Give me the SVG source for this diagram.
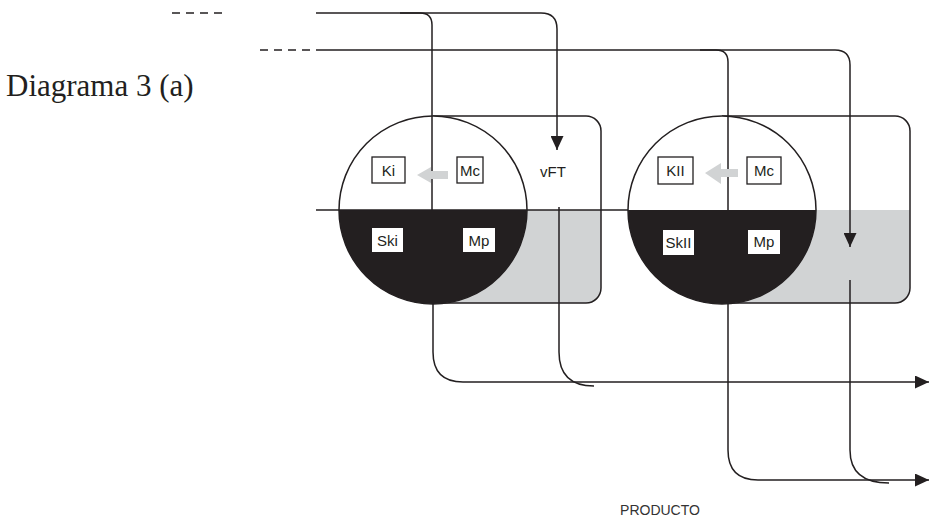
<svg xmlns="http://www.w3.org/2000/svg" width="929" height="520" viewBox="0 0 929 520">
<style>
.ln{fill:none;stroke:#231f20;stroke-width:1.5}
.dash{fill:none;stroke:#231f20;stroke-width:1.5;stroke-dasharray:8 6}
.box{fill:#fff;stroke:#231f20;stroke-width:1.3}
.wbox{fill:#fff;stroke:none}
.lbl{font-family:"Liberation Sans",Arial,sans-serif;font-size:15px;fill:#231f20;text-anchor:middle}
.gray{fill:#d1d3d4}
.blk{fill:#231f20}
.garrow{fill:#d1d3d4}
</style>
<defs>
<marker id="ah" markerUnits="userSpaceOnUse" markerWidth="14" markerHeight="13" refX="14" refY="6.5" orient="auto">
<path d="M0,0 L14,6.5 L0,13 Z" fill="#231f20"/>
</marker>
</defs>
<rect width="929" height="520" fill="#fff"/>
<text x="6" y="96" font-family="Liberation Serif,Times New Roman,serif" font-size="31" fill="#231f20">Diagrama 3 (a)</text>

<g id="tank1">
<path d="M433,116 H586 A15,15 0 0 1 601,131 V288 A15,15 0 0 1 586,303 H433 Z" fill="#fff"/>
<path d="M433,210 H601 V288 A15,15 0 0 1 586,303 H433 Z" class="gray"/>
<path d="M433,116 H586 A15,15 0 0 1 601,131 V288 A15,15 0 0 1 586,303 H433" class="ln"/>
<circle cx="433" cy="210" r="94" fill="#fff" stroke="#231f20" stroke-width="1.5"/>
<path d="M339,210 A94,94 0 0 0 527,210 Z" class="blk"/>
</g>
<g id="tank2">
<path d="M722,116 H895 A15,15 0 0 1 910,131 V288 A15,15 0 0 1 895,303 H722 Z" fill="#fff"/>
<path d="M722,210 H910 V288 A15,15 0 0 1 895,303 H722 Z" class="gray"/>
<path d="M722,116 H895 A15,15 0 0 1 910,131 V288 A15,15 0 0 1 895,303 H722" class="ln"/>
<circle cx="722" cy="210" r="94" fill="#fff" stroke="#231f20" stroke-width="1.5"/>
<path d="M628,210 A94,94 0 0 0 816,210 Z" class="blk"/>
</g>

<g id="connectors">
<path class="dash" d="M172,13 H224"/>
<path class="dash" d="M260,50 H312"/>
<path class="ln" d="M316,13 H420 Q432,13 432,25 V210"/>
<path class="ln" d="M400,13 H541 Q557,13 557,29 V150" marker-end="url(#ah)"/>
<path class="ln" d="M316,50 H716 Q728,50 728,62 V210"/>
<path class="ln" d="M700,50 H835 Q850,50 850,65 V247" marker-end="url(#ah)"/>
<path class="ln" d="M316,210 H628"/>
<path class="ln" d="M433,303 V352 Q433,382 463,382 H929" marker-end="url(#ah)"/>
<path class="ln" d="M559,207 V352 Q559,386 594,386"/>
<path class="ln" d="M728,303 V450 Q728,480 758,480 H929" marker-end="url(#ah)"/>
<path class="ln" d="M850,280 V450 Q850,483 889,483"/>
</g>

<g id="n-ki">
<rect class="box" x="372" y="157" width="33" height="26"/>
<text class="lbl" x="388.5" y="176">Ki</text>
</g>
<g id="n-mc1">
<rect class="box" x="457" y="157" width="26" height="26"/>
<text class="lbl" x="470" y="176">Mc</text>
</g>
<g id="n-arrow1">
<polygon class="garrow" points="417,175 431,167 431,171 448,171 448,179 431,179 431,183"/>
</g>
<g id="n-vft">
<text class="lbl" x="553" y="177">vFT</text>
</g>
<g id="n-ski">
<rect class="wbox" x="372" y="228" width="31" height="24"/>
<text class="lbl" x="387.5" y="246">Ski</text>
</g>
<g id="n-mp1">
<rect class="wbox" x="463" y="228" width="32" height="24"/>
<text class="lbl" x="479" y="246">Mp</text>
</g>

<g id="n-kii">
<rect class="box" x="658" y="157" width="35" height="27"/>
<text class="lbl" x="675.5" y="176">KII</text>
</g>
<g id="n-mc2">
<rect class="box" x="747" y="157" width="34" height="27"/>
<text class="lbl" x="764" y="176">Mc</text>
</g>
<g id="n-arrow2">
<polygon class="garrow" points="705,173 721,163 721,169 738,169 738,177 721,177 721,184"/>
</g>
<g id="n-skii">
<rect class="wbox" x="663" y="230" width="31" height="25"/>
<text class="lbl" x="678.5" y="248">SkII</text>
</g>
<g id="n-mp2">
<rect class="wbox" x="748" y="230" width="32" height="24"/>
<text class="lbl" x="764" y="247">Mp</text>
</g>

<g id="n-producto">
<text x="660" y="515" font-family="Liberation Sans,Arial,sans-serif" font-size="14" fill="#333" text-anchor="middle">PRODUCTO</text>
</g>
</svg>
